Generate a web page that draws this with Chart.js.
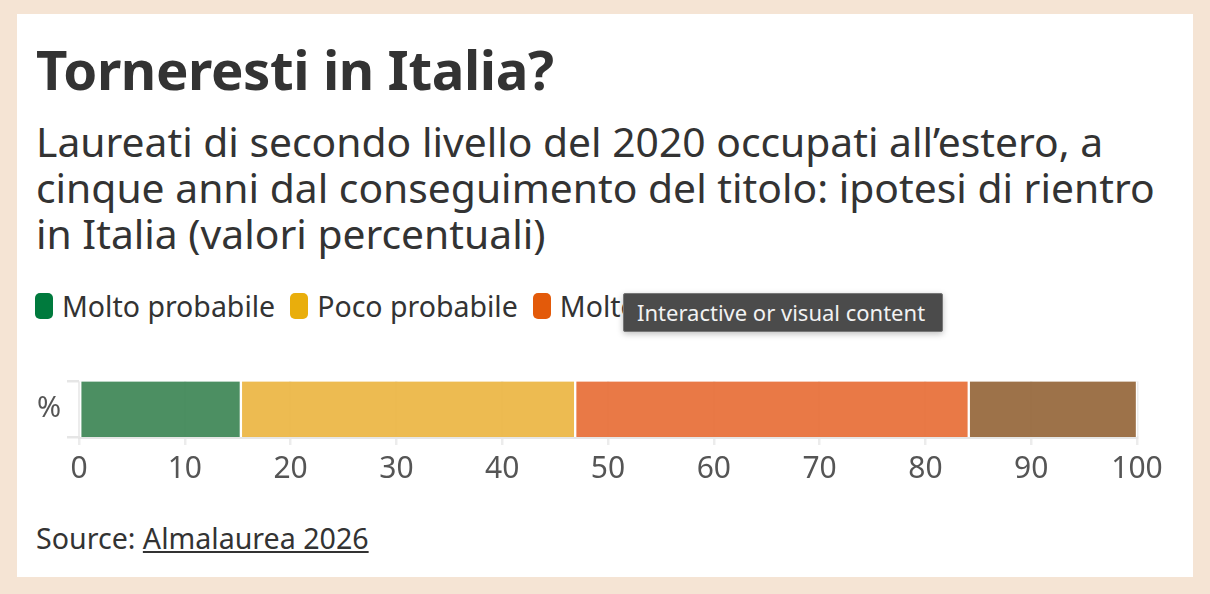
<!DOCTYPE html>
<html lang="it">
<head>
<meta charset="utf-8">
<script src="https://cdn.jsdelivr.net/npm/chart.js@4"></script>
<style>
  html, body { margin: 0; padding: 0; }
  body { width: 1210px; height: 594px; background: #f5e4d4; position: relative; overflow: hidden;
         font-family: "Noto Sans", sans-serif; color: #333; }
  #card { position: absolute; left: 17px; top: 14px; width: 1176px; height: 563px; background: #fff; }
  h1 { position: absolute; left: 19px; top: 25px; margin: 0; font-size: 54.5px; font-weight: 700; line-height: 60px; letter-spacing: -0.4px; }
  #sub { position: absolute; left: 19px; top: 104px; margin: 0; font-size: 40.8px; line-height: 46px; font-weight: 400; }
  #legend { position: absolute; left: 18px; top: 275px; font-size: 28.5px; line-height: 34px; display: flex; align-items: center; }
  .item { display: flex; align-items: center; margin-right: 15px; }
  .sw { width: 18px; height: 26px; border-radius: 5px; margin-right: 9px; }
  #wrap { position: absolute; left: 0px; top: 344px; width: 1176px; height: 135px; }
  #source { position: absolute; left: 19px; top: 507px; font-size: 28.6px; line-height: 34px; }
  #source span { text-decoration: underline; }
  #tip { position: absolute; left: 623px; top: 293px; width: 320px; height: 39px; background: #4b4b4b;
         border: 1px solid #777; border-radius: 2px; color: #f2f2f2; font-size: 22px; line-height: 37px;
         box-sizing: border-box; padding-left: 13px; box-shadow: 0 2px 6px rgba(0,0,0,0.25); }
</style>
</head>
<body>
<div id="card">
  <h1>Torneresti in Italia?</h1>
  <p id="sub">Laureati di secondo livello del 2020 occupati all’estero, a<br>cinque anni dal conseguimento del titolo: ipotesi di rientro<br>in Italia (valori percentuali)</p>
  <div id="legend"></div>
  <div id="wrap"><canvas id="js--chart"></canvas></div>
  <div id="source">Source: <span>Almalaurea 2026</span></div>
</div>
<div id="tip">Interactive or visual content</div>

<script>
// dati
const categories = ["%"];
const seriesNames = ["Molto probabile", "Poco probabile", "Molto improbabile", "Non so"];
const seriesValues = [15.3, 31.6, 37.2, 15.9];
const legendColors = ["#007a3d", "#e9ae0c", "#e35a0a", "#7a4a18"];
const barColors = ["rgba(66,137,90,0.95)", "rgba(236,183,72,0.95)", "rgba(232,114,60,0.95)", "rgba(152,106,63,0.95)"];
const xTicks = [0, 10, 20, 30, 40, 50, 60, 70, 80, 90, 100];

const legend = document.getElementById("legend");
for (let i = 0; i < seriesNames.length; i++) {
  const item = document.createElement("div");
  item.className = "item";
  item.innerHTML = '<div class="sw" style="background:' + legendColors[i] + '"></div>' + seriesNames[i];
  legend.appendChild(item);
}

const datasets = [];
for (let i = 0; i < seriesNames.length; i++) {
  datasets.push({
    label: seriesNames[i],
    data: [seriesValues[i]],
    backgroundColor: barColors[i],
    borderColor: "#ffffff",
    borderWidth: {left: 1.5, right: 1.5, top: 0, bottom: 0},
    borderSkipped: false,
    barThickness: 56
  });
}

const config = {
  type: "bar",
  data: { labels: categories, datasets: datasets },
  options: {
    indexAxis: "y",
    responsive: true,
    maintainAspectRatio: false,
    animation: false,
    layout: { padding: { top: 10, right: 56, left: 0, bottom: 0 } },
    plugins: { legend: { display: false }, tooltip: { enabled: false } },
    scales: {
      x: {
        stacked: true,
        min: 0,
        max: 100,
        afterBuildTicks: function(scale) { scale.ticks = xTicks.map(function(v){ return {value: v}; }); },
        grid: { color: "#ececec", lineWidth: 2.5, tickLength: 8 },
        border: { color: "#e6e6e6", width: 3 },
        ticks: { color: "#555", font: { family: "Noto Sans", size: 30 }, padding: 6 }
      },
      y: {
        stacked: true,
        afterFit: function(scale) { scale.width = 62; },
        grid: { drawOnChartArea: false, color: "#e6e6e6", lineWidth: 2.5, tickLength: 12 },
        border: { display: false },
        ticks: { color: "#555", font: { family: "Noto Sans", size: 29 }, padding: 6 }
      }
    }
  }
};

const chart1 = new Chart(document.getElementById("js--chart"), config);
</script>
</body>
</html>
